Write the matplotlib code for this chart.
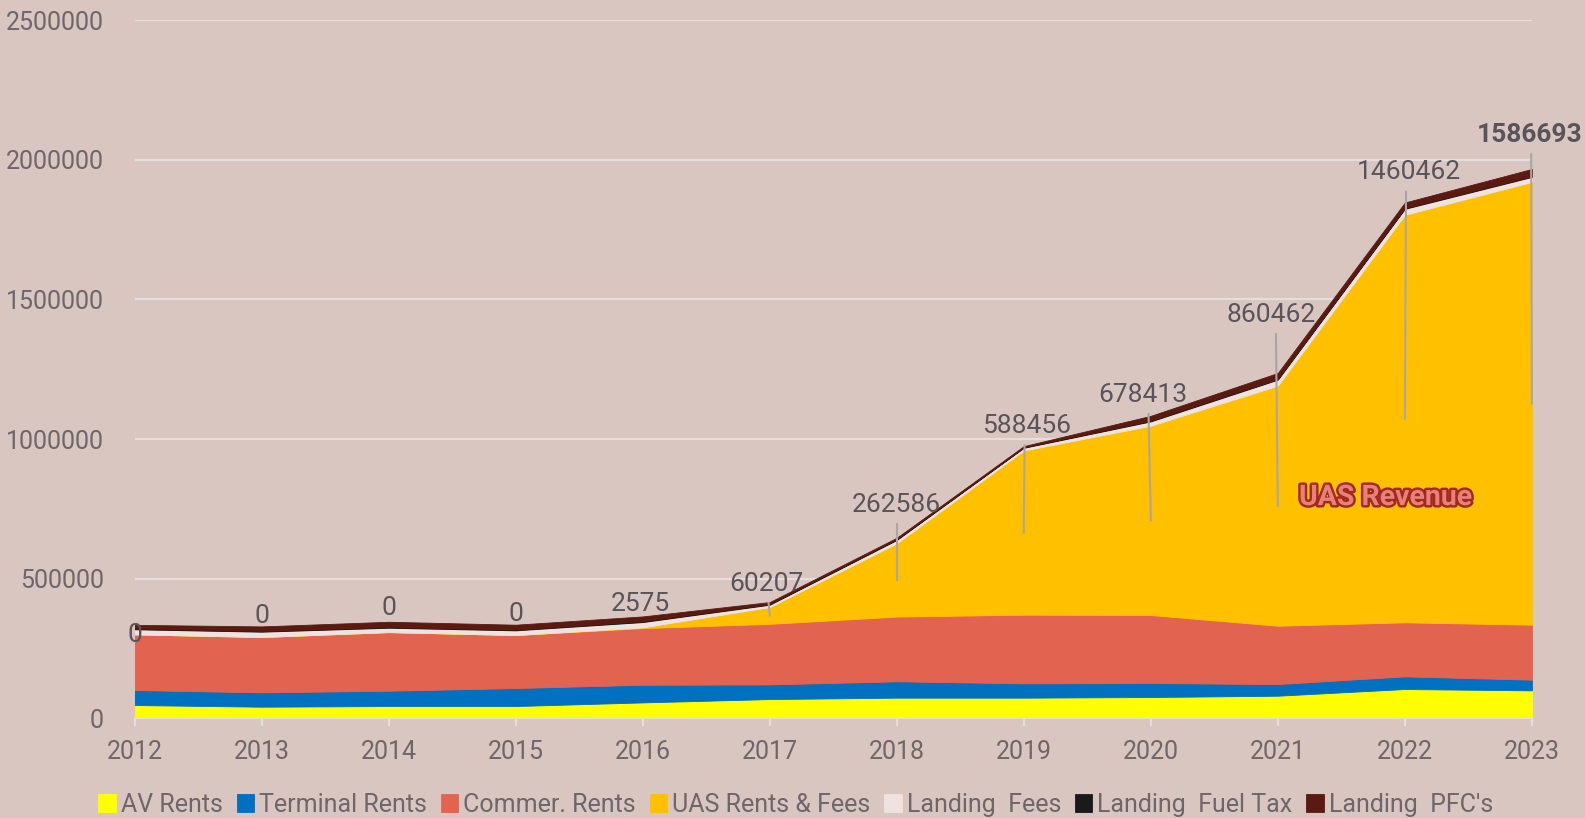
import matplotlib
matplotlib.use("Agg")
import matplotlib.pyplot as plt
import matplotlib.patheffects as pe
import numpy as np

years = [2012, 2013, 2014, 2015, 2016, 2017, 2018, 2019, 2020, 2021, 2022, 2023]
av_rents = [46600, 40600, 43000, 43000, 56000, 68000, 73000, 73000, 75300, 80000, 104000, 99200]
terminal_rents = [53800, 51400, 55000, 64500, 63300, 52500, 58600, 51400, 50200, 41800, 45400, 38200]
commer_rents = [199600, 198400, 210000, 190000, 203000, 217000, 232000, 246000, 243700, 209000, 193600, 197100]
uas_rents = [0, 0, 0, 0, 2575, 60207, 262586, 588456, 678413, 860462, 1460462, 1586693]
landing_fees = [18000, 19000, 15500, 16700, 19000, 8400, 12000, 9600, 15500, 21500, 21500, 18000]
fuel_tax = [3000, 3000, 3000, 3000, 3000, 2500, 2500, 2000, 3000, 3000, 3000, 3000]
pfcs = [13000, 16000, 18500, 17300, 17300, 7000, 5500, 4000, 17000, 21000, 19700, 25700]

series_names = ["AV Rents", "Terminal Rents", "Commer. Rents", "UAS Rents & Fees",
                "Landing  Fees", "Landing  Fuel Tax", "Landing  PFC's"]
colors = ["#ffff00", "#0070c0", "#e26350", "#ffc000", "#efe2df", "#1a1a1a", "#5a1a10"]

# where the value labels were dragged to (year offset, height of label centre)
label_dx = [0, 0, 0, 0, -0.02, -0.03, 0, 0.02, -0.06, -0.05, 0.03, -0.02]
label_y = [297000, 365900, 394900, 373200, 409400, 481900, 764500, 1047000,
           1159400, 1445600, 1956000, 2090500]

bg = "#d9c6c0"
text_col = "#6e666a"
label_col = "#59545a"

plt.rcParams['font.family'] = ['Roboto', 'DejaVu Sans']

fig = plt.figure(figsize=(15.85, 8.18), dpi=100, facecolor=bg)
ax = fig.add_axes([0.0849, 0.1222, 0.8816, 0.8528], facecolor=bg)

data = [av_rents, terminal_rents, commer_rents, uas_rents, landing_fees, fuel_tax, pfcs]
polys = ax.stackplot(years, data, colors=colors, labels=series_names, zorder=2)
for p, c in zip(polys, colors):
    p.set_edgecolor(c)
    p.set_linewidth(0.6)

ax.set_xlim(2012, 2023)
ax.set_ylim(0, 2500000)
ax.set_yticks(np.arange(0, 2500001, 500000))
ax.yaxis.set_major_formatter(matplotlib.ticker.FuncFormatter(lambda v, p: f"{int(v)}"))
ax.set_xticks(years)
ax.grid(axis='y', color='#e6dede', linewidth=1.5, zorder=0)
ax.set_axisbelow(True)
for s in ['top', 'right', 'left']:
    ax.spines[s].set_visible(False)
ax.spines['bottom'].set_color('#e6dede')
ax.spines['bottom'].set_linewidth(1.5)
ax.tick_params(axis='y', length=0, pad=22, labelsize=18, labelcolor=text_col)
ax.tick_params(axis='x', length=6, width=1.5, color='#e6dede', pad=10,
               labelsize=18, labelcolor=text_col)

# data labels for UAS series with leader lines to the band centre
base = np.array(av_rents) + np.array(terminal_rents) + np.array(commer_rents)
for i, yr in enumerate(years):
    bold = i == len(years) - 1
    ax.text(yr + label_dx[i], label_y[i], str(uas_rents[i]), ha='center', va='center',
            fontsize=19, color=label_col, fontweight='bold' if bold else 'normal',
            zorder=5, clip_on=False)
    if uas_rents[i] > 50000:
        mid = base[i] + uas_rents[i] / 2
        ax.plot([yr + label_dx[i] * 0.3, yr], [label_y[i] - 70000, mid],
                color='#aaa6a8', linewidth=1.5, zorder=4, clip_on=False)

ax.text(2021.85, 790000, "UAS Revenue", ha='center', va='center', fontsize=20.5,
        fontweight='bold', color='#e5837a', zorder=6,
        path_effects=[pe.withStroke(linewidth=3.5, foreground='#a4281d')])

fig.legend(loc='lower center', bbox_to_anchor=(0.502, -0.026), ncol=7, frameon=False,
           fontsize=18, labelcolor=text_col, handlelength=0.7, handleheight=0.7,
           handletextpad=0.2, columnspacing=0.55)

fig.savefig("out.png", dpi=100, facecolor=bg)
